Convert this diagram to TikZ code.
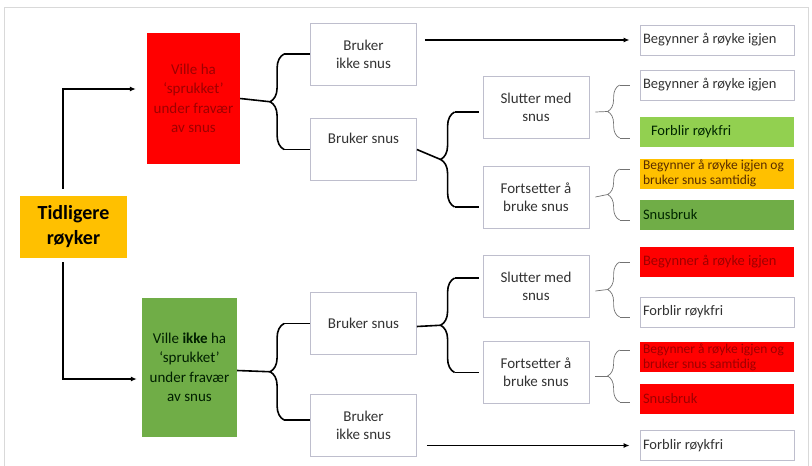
\documentclass[tikz,border=0pt]{standalone}
\usepackage{fontspec}
\setmainfont{Carlito}
\usepackage{tikz}
\usetikzlibrary{calc, arrows.meta, decorations.pathreplacing, positioning}
\definecolor{boxred}{RGB}{255, 0, 0}
\definecolor{boxorange}{RGB}{255, 192, 0}
\definecolor{lightgreen}{RGB}{146, 208, 80}
\definecolor{darkgreen}{RGB}{112, 173, 71}
\definecolor{bordergray}{RGB}{190, 190, 205}
\definecolor{framegray}{RGB}{217, 217, 217}
\tikzset{
    bignode/.style = {rectangle, draw=none, inner sep=0pt, node distance=0em, align=center,
      font=\fontsize{15}{19.5}\selectfont},
    midnode/.style = {draw=bordergray, line width=0.8pt, rectangle, fill=white, inner sep=0pt,
      minimum width=106pt, minimum height=62pt, node distance=0em, align=center,
      text=black!80, font=\fontsize{15}{18}\selectfont},
    endnode/.style = {draw=bordergray, line width=0.8pt, rectangle, fill=white, inner xsep=3pt,
      inner ysep=0pt, text width=148pt, minimum height=30pt, node distance=0em, align=flush left,
      text=black!80, font=\fontsize{14.5}{17}\selectfont},
    twolines/.style = {font=\fontsize{13.5}{15}\selectfont},
    connect/.style = {black, line width=1.3pt, -{Latex[length=6pt, width=5pt]}},
    bigbrace/.style = {decorate, decoration={brace, amplitude=14pt}, line width=1.6pt, black},
    bigline/.style = {line width=1.6pt, black},
    smallbrace/.style = {decorate, decoration={brace, amplitude=12pt}, line width=0.7pt, black!55},
    smallline/.style = {line width=0.7pt, black!55}
}

\begin{document}
\begin{tikzpicture}[x=1pt, y=1pt]
\useasboundingbox (0,0) rectangle (812,-466);
\draw[framegray, line width=1pt] (4.5,-466) |- (808.5,-7) -- (808.5,-466);

\node [bignode, fill=boxorange, name=tid, minimum width=107pt, minimum height=62pt,
  font=\fontsize{20}{25}\selectfont\bfseries] at (73.5,-227) {Tidligere\\røyker};
\node [bignode, fill=boxred, text=red!62!black, name=red, minimum width=93pt, minimum height=131pt,
  above of=tid, xshift=120pt, yshift=128.5pt] {Ville ha\\‘sprukket’\\under fravær\\av snus};
\node [bignode, fill=darkgreen, text=green!12!black, name=green, minimum width=95pt, minimum height=139pt,
  below of=tid, xshift=116pt, yshift=-140.5pt] {Ville \textbf{ikke} ha\\‘sprukket’\\under fravær\\av snus};

\draw[connect] ([shift={(-10.5pt,7pt)}]tid.north) |- ([shift={(-11pt,9.5pt)}]red.west);
\draw[connect] ([shift={(-10.5pt,-4pt)}]tid.south) |- ([shift={(-5pt,-11.5pt)}]green.west);

\node [midnode, name=bik1, right of=red, xshift=170pt, yshift=44.5pt] {Bruker\\ikke snus};
\node [midnode, name=bs1, below of=bik1, yshift=-95.5pt] {Bruker snus\\[4pt]};
\node [midnode, name=s1, right of=bs1, xshift=172.5pt, yshift=42.5pt] {Slutter med\\snus};
\node [midnode, name=f1, below of=s1, yshift=-90pt] {Fortsetter å\\bruke snus};

\node [endnode, name=b1, right of=bik1, xshift=353.5pt, yshift=14pt] {Begynner å røyke igjen};
\node [endnode, name=b2, below of=b1, yshift=-45pt] {Begynner å røyke igjen};
\node [endnode, fill=lightgreen, draw=none, text=green!15!black, name=fr1, below of=b2, yshift=-47pt] {\hspace{8pt}Forblir røykfri};
\node [endnode, twolines, fill=boxorange, draw=none, text=orange!35!black, name=br4, below of=fr1, yshift=-41.5pt] {Begynner å røyke igjen og\\bruker snus samtidig};
\node [endnode, fill=darkgreen, draw=none, text=green!15!black, name=sn1, below of=br4, yshift=-41pt] {Snusbruk};

\node [midnode, name=bs2, right of=green, xshift=174pt, yshift=44pt] {Bruker snus};
\node [midnode, name=bik2, below of=bs2, yshift=-101.5pt] {Bruker\\ikke snus};
\node [midnode, name=s2, right of=bs2, xshift=172.5pt, yshift=37.5pt] {Slutter med\\snus};
\node [midnode, name=f2, below of=s2, yshift=-86.5pt] {Fortsetter å\\bruke snus};

\node [endnode, fill=boxred, draw=none, text=red!62!black, name=b3, right of=s2, xshift=181pt, yshift=24pt] {Begynner å røyke igjen};
\node [endnode, name=fr2, below of=b3, yshift=-50pt] {Forblir røykfri};
\node [endnode, twolines, fill=boxred, draw=none, text=red!62!black, name=br5, below of=fr2, yshift=-45pt] {Begynner å røyke igjen og\\bruker snus samtidig};
\node [endnode, fill=boxred, draw=none, text=red!62!black, name=sn2, below of=br5, yshift=-42pt] {Snusbruk};
\node [endnode, name=fr3, below of=sn2, yshift=-46.5pt] {Forblir røykfri};

\draw[bigbrace] ([xshift=-26pt]bs1.west) -- ([xshift=-26pt]bik1.west);
\draw[bigline] ([xshift=-26pt]bik1.west) -- (bik1.west);
\draw[bigline] ([xshift=-26pt]bs1.west) -- (bs1.west);
\draw[bigline] (red.east) -- ($(bik1.west)!0.5!(bs1.west) + (-40pt,0)$);

\draw[bigbrace] ([shift={(-28pt,-10pt)}]f1.west) -- ([shift={(-28pt,-5pt)}]s1.west);
\draw[bigline] ([shift={(-28pt,-5pt)}]s1.west) -- ([shift={(-4pt,-5pt)}]s1.west);
\draw[bigline] ([shift={(-28pt,-10pt)}]f1.west) -- ([shift={(-4pt,-10pt)}]f1.west);
\draw[bigline] (bs1.east) -- ($(s1.west)!0.5!(f1.west) + (-42pt,-7.5pt)$);

\draw[bigbrace] ([shift={(-26pt,5pt)}]bik2.west) -- ([xshift=-26pt]bs2.west);
\draw[bigline] ([xshift=-26pt]bs2.west) -- (bs2.west);
\draw[bigline] ([shift={(-26pt,5pt)}]bik2.west) -- ([yshift=5pt]bik2.west);
\draw[bigline] ([yshift=-3pt]green.east) -- ($(bs2.west)!0.5!(bik2.west) + (-40pt,2.5pt)$);

\draw[bigbrace] ([xshift=-28pt]f2.west) -- ([shift={(-28pt,8pt)}]s2.west);
\draw[bigline] ([shift={(-28pt,8pt)}]s2.west) -- ([shift={(-4pt,8pt)}]s2.west);
\draw[bigline] ([xshift=-28pt]f2.west) -- ([xshift=-4pt]f2.west);
\draw[bigline] ([yshift=-3pt]bs2.east) -- ($(s2.west)!0.5!(f2.west) + (-42pt,4pt)$);

\draw[smallbrace] ([shift={(-20pt,-6pt)}]fr1.west) -- ([xshift=-20pt]b2.west);
\draw[smallline] ([xshift=-20pt]b2.west) -- ([xshift=-10pt]b2.west);
\draw[smallline] ([shift={(-20pt,-6pt)}]fr1.west) -- ([shift={(-10pt,-6pt)}]fr1.west);
\draw[smallline] ([shift={(6pt,-5pt)}]s1.east) -- ($(b2.west)!0.5!(fr1.west) + (-32pt,-3pt)$);

\draw[smallbrace] ([shift={(-20pt,-5.5pt)}]sn1.west) -- ([shift={(-20pt,4.5pt)}]br4.west);
\draw[smallline] ([shift={(-20pt,4.5pt)}]br4.west) -- ([shift={(-10pt,4.5pt)}]br4.west);
\draw[smallline] ([shift={(-20pt,-5.5pt)}]sn1.west) -- ([shift={(-10pt,-5.5pt)}]sn1.west);
\draw[smallline] ([xshift=6pt]f1.east) -- ($(br4.west)!0.5!(sn1.west) + (-32pt,-0.5pt)$);

\draw[smallbrace] ([shift={(-20pt,-5pt)}]fr2.west) -- ([xshift=-20pt]b3.west);
\draw[smallline] ([xshift=-20pt]b3.west) -- ([xshift=-10pt]b3.west);
\draw[smallline] ([shift={(-20pt,-5pt)}]fr2.west) -- ([shift={(-10pt,-5pt)}]fr2.west);
\draw[smallline] ([shift={(6pt,-5pt)}]s2.east) -- ($(b3.west)!0.5!(fr2.west) + (-32pt,-2.5pt)$);

\draw[smallbrace] ([shift={(-20pt,-3pt)}]sn2.west) -- ([shift={(-20pt,7pt)}]br5.west);
\draw[smallline] ([shift={(-20pt,7pt)}]br5.west) -- ([shift={(-10pt,7pt)}]br5.west);
\draw[smallline] ([shift={(-20pt,-3pt)}]sn2.west) -- ([shift={(-10pt,-3pt)}]sn2.west);
\draw[smallline] ([shift={(6pt,-3.5pt)}]f2.east) -- ($(br5.west)!0.5!(sn2.west) + (-32pt,2pt)$);

\draw[connect] ([xshift=8pt]bik1.east |- b1.west) -- ([xshift=-10pt]b1.west);
\draw[connect] ([xshift=10pt]bik2.east |- fr3.west) -- ([xshift=-10pt]fr3.west);
\end{tikzpicture}
\end{document}
